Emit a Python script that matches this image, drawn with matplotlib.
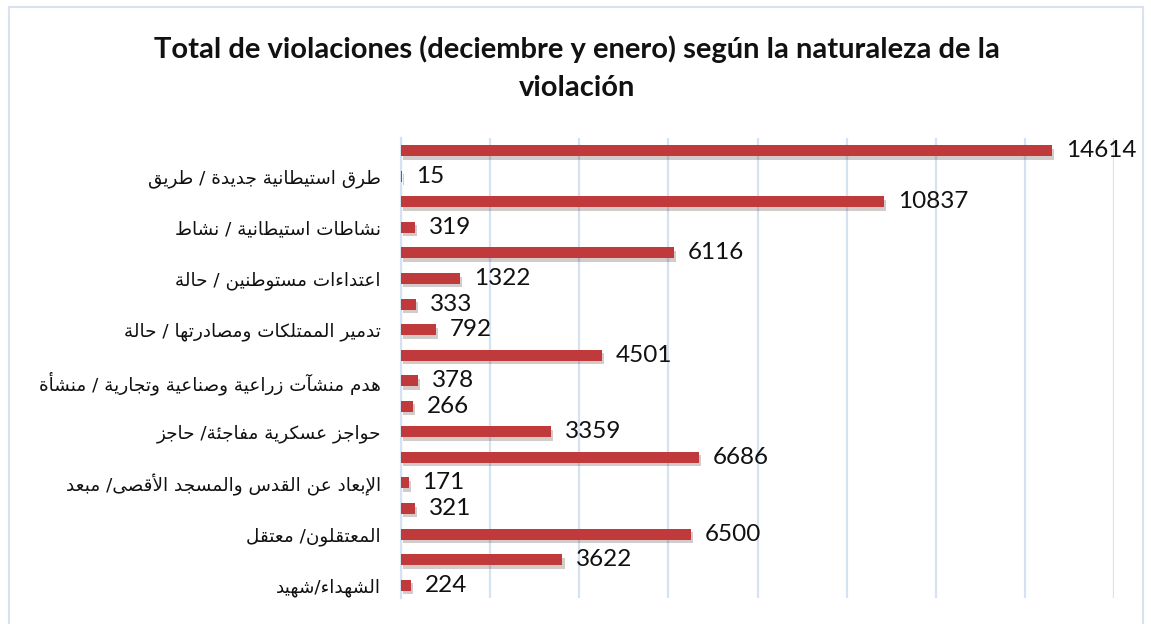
import matplotlib
matplotlib.use("Agg")
import matplotlib.pyplot as plt
import matplotlib.patheffects as pe
from matplotlib.patches import Rectangle

# Datos (de arriba hacia abajo)
categorias = [
    "طرق استيطانية جديدة / طريق",
    "نشاطات استيطانية / نشاط",
    "اعتداءات مستوطنين / حالة",
    "تدمير الممتلكات ومصادرتها / حالة",
    "هدم منشآت زراعية وصناعية وتجارية / منشأة",
    "حواجز عسكرية مفاجئة/ حاجز",
    "الإبعاد عن القدس والمسجد الأقصى/ مبعد",
    "المعتقلون/ معتقل",
    "الشهداء/شهيد",
]
serie_a = [14614, 10837, 6116, 333, 4501, 266, 6686, 321, 3622]
serie_b = [15, 319, 1322, 792, 378, 3359, 171, 6500, 224]

titulo = "Total de violaciones (deciembre y enero) según la naturaleza de la\nviolación"

# --- matplotlib no da forma al arabe: formas de presentacion + inversion ---
LETRAS = "ءآأؤإئابةتثجحخدذرزسشصضطظعغفقكلمنهوىي"
NFORMAS = [1, 2, 2, 2, 2, 4, 2, 4, 2, 4, 4, 4, 4, 4, 2, 2, 2, 2, 4, 4,
           4, 4, 4, 4, 4, 4, 4, 4, 4, 4, 4, 4, 4, 2, 2, 4]
FORMAS = {}
cp = 0xFE80
for ch, nf in zip(LETRAS, NFORMAS):
    FORMAS[ch] = [chr(cp + j) for j in range(nf)]
    cp += nf
LAM_ALEF = {"آ": 0xFEF5, "أ": 0xFEF7, "إ": 0xFEF9, "ا": 0xFEFB}


def une(c):
    return c in FORMAS and c != "ء"


def dual(c):
    return c in FORMAS and len(FORMAS[c]) == 4


def arabe(texto):
    out = []
    i = 0
    n = len(texto)
    while i < n:
        c = texto[i]
        if c not in FORMAS:
            out.append(c)
            i += 1
            continue
        prev = texto[i - 1] if i > 0 else ""
        con_prev = dual(prev)
        if c == "ل" and i + 1 < n and texto[i + 1] in LAM_ALEF:
            out.append(chr(LAM_ALEF[texto[i + 1]] + (1 if con_prev else 0)))
            i += 2
            continue
        nxt = texto[i + 1] if i + 1 < n else ""
        con_next = dual(c) and une(nxt)
        f = FORMAS[c]
        if con_prev and con_next:
            g = f[3]
        elif con_prev:
            g = f[1] if len(f) > 1 else f[0]
        elif con_next:
            g = f[2]
        else:
            g = f[0]
        out.append(g)
        i += 1
    return "".join(reversed(out))


ROJO = "#C0393B"
GRID = "#D5E2F2"

fig = plt.figure(figsize=(11.51, 6.24), dpi=100)
ax = fig.add_axes([0.3484, 0.0417, 0.6195, 0.7372])

pos_a = [2 * k for k in range(len(categorias))]
pos_b = [2 * k + 1 for k in range(len(categorias))]
valores = serie_a + serie_b
posiciones = pos_a + pos_b

sombra = [pe.SimplePatchShadow(offset=(1.5, -2.5), alpha=0.22), pe.Normal()]
bars = ax.barh(posiciones, valores, height=0.43, color=ROJO, zorder=3)
for b in bars:
    b.set_path_effects(sombra)

for v, y in zip(valores, posiciones):
    ax.annotate(str(v), xy=(v, y), xytext=(10, 0), textcoords="offset points",
                ha="left", va="center", fontsize=17.5, family="Lato",
                color="#111111", zorder=4)

ax.set_xlim(0, 16000)
ax.set_ylim(len(valores) - 0.5, -0.5)
ax.set_xticks(range(0, 16001, 2000))
ax.xaxis.grid(True, color=GRID, lw=1.6, zorder=0)
ax.tick_params(left=False, bottom=False, labelbottom=False)
ax.set_yticks(pos_b)
ax.set_yticklabels([arabe(c) for c in categorias], family="DejaVu Sans",
                   fontsize=13.2, color="#111111")
ax.tick_params(axis="y", pad=11)
for s in ["top", "right", "bottom"]:
    ax.spines[s].set_visible(False)
ax.spines["left"].set_color(GRID)
ax.spines["left"].set_linewidth(1.6)

fig.text(0.501, 0.891, titulo, ha="center", va="center", fontsize=21,
         fontweight="bold", family="Lato", color="#111111", linespacing=1.6)

fig.patches.append(Rectangle((9 / 1151, -0.05), (1143 - 9) / 1151, 1.05 - 7 / 624,
                             transform=fig.transFigure, fill=False,
                             edgecolor="#D9E2EE", lw=1.5))

fig.savefig("out.png", dpi=100)
